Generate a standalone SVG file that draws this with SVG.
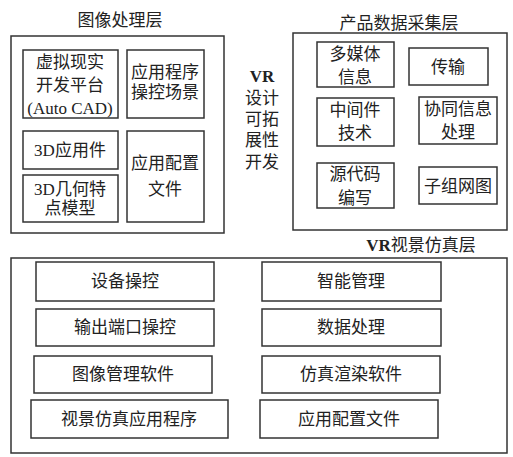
<svg xmlns="http://www.w3.org/2000/svg" width="513" height="457" viewBox="0 0 513 457">
<style>
rect{fill:#fff;stroke:#333;stroke-width:1.5}
text{font-family:"Liberation Serif","Noto Sans CJK SC",serif;font-size:17px;fill:#222;text-anchor:middle;dominant-baseline:central}
.b{font-weight:bold}
</style>
<rect x="0" y="0" width="513" height="457" style="stroke:none"/>
<g id="image-layer">
<text x="120" y="20">图像处理层</text>
<rect x="11" y="36" width="213" height="197"/>
</g>
<g id="n-vr-platform"><rect x="23" y="50" width="95" height="68"/>
<text x="70" y="62">虚拟现实</text><text x="70" y="85">开发平台</text><text x="70" y="108">(Auto  CAD)</text></g>
<g id="n-app-scene"><rect x="127" y="50" width="77" height="68"/>
<text x="165" y="72">应用程序</text><text x="165" y="92">操控场景</text></g>
<g id="n-3d-app"><rect x="23" y="131" width="95" height="38"/>
<text x="70" y="150">3D应用件</text></g>
<g id="n-3d-model"><rect x="23" y="175" width="95" height="47"/>
<text x="70" y="189">3D几何特</text><text x="70" y="208">点模型</text></g>
<g id="n-app-config"><rect x="127" y="131" width="77" height="91"/>
<text x="165" y="163">应用配置</text><text x="165" y="189">文件</text></g>

<g id="vr-label">
<text x="262" y="76" class="b">VR</text><text x="262" y="98">设计</text><text x="262" y="119">可拓</text><text x="262" y="140">展性</text><text x="262" y="162">开发</text>
</g>

<g id="data-layer">
<text x="399" y="23">产品数据采集层</text>
<rect x="293" y="33" width="214" height="197"/>
</g>
<g id="n-media"><rect x="317" y="42" width="77" height="45"/>
<text x="355" y="54">多媒体</text><text x="355" y="77">信息</text></g>
<g id="n-trans"><rect x="409" y="48" width="79" height="37"/>
<text x="448" y="67">传输</text></g>
<g id="n-middleware"><rect x="317" y="98" width="77" height="48"/>
<text x="355" y="110">中间件</text><text x="355" y="133">技术</text></g>
<g id="n-collab"><rect x="419" y="97" width="78" height="47"/>
<text x="458" y="109">协同信息</text><text x="458" y="132">处理</text></g>
<g id="n-source"><rect x="317" y="163" width="77" height="45"/>
<text x="355" y="174">源代码</text><text x="355" y="198">编写</text></g>
<g id="n-subnet"><rect x="419" y="167" width="78" height="37"/>
<text x="458" y="186">子组网图</text></g>

<g id="sim-layer">
<text x="421" y="245"><tspan class="b">VR</tspan>视景仿真层</text>
<rect x="11" y="258" width="496" height="195"/>
</g>
<g id="n-device"><rect x="36" y="262" width="178" height="39"/><text x="125" y="281">设备操控</text></g>
<g id="n-smart"><rect x="262" y="262" width="179" height="39"/><text x="351" y="281">智能管理</text></g>
<g id="n-port"><rect x="36" y="309" width="178" height="37"/><text x="125" y="327">输出端口操控</text></g>
<g id="n-data"><rect x="262" y="309" width="179" height="37"/><text x="351" y="327">数据处理</text></g>
<g id="n-imgsoft"><rect x="34" y="356" width="178" height="37"/><text x="123" y="374">图像管理软件</text></g>
<g id="n-render"><rect x="262" y="356" width="178" height="37"/><text x="351" y="374">仿真渲染软件</text></g>
<g id="n-simapp"><rect x="31" y="400" width="197" height="38"/><text x="129" y="419">视景仿真应用程序</text></g>
<g id="n-config2"><rect x="260" y="400" width="178" height="38"/><text x="349" y="419">应用配置文件</text></g>
<g id="connectors"></g>
</svg>
